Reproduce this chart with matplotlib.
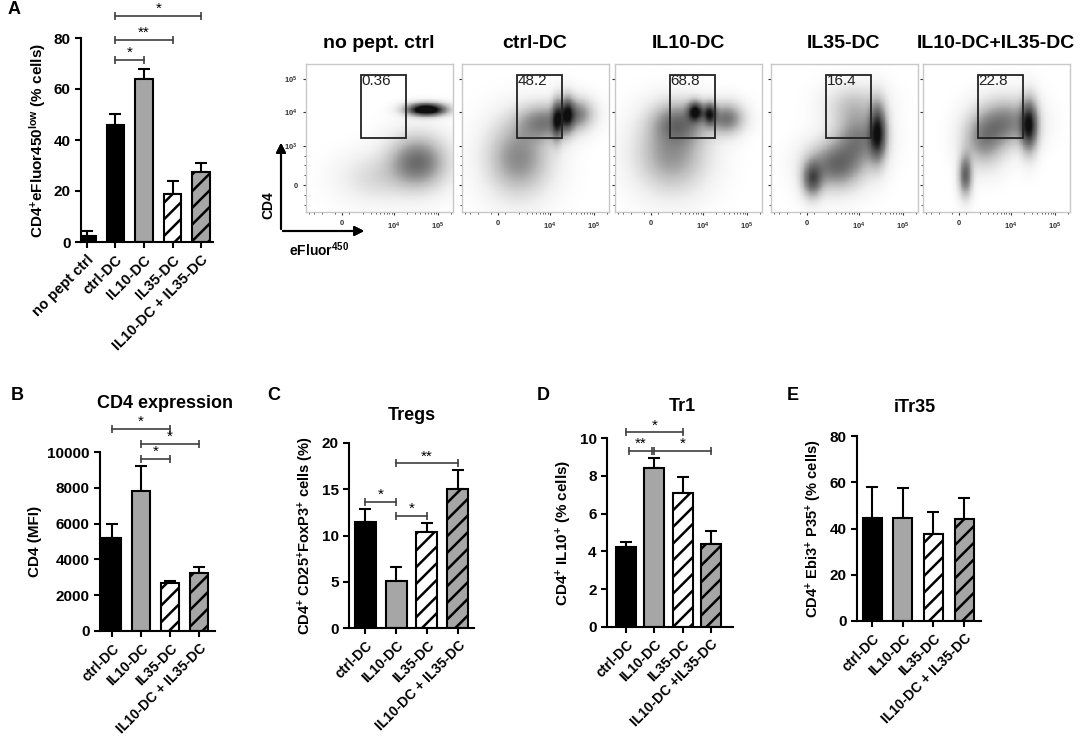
import numpy as np
import matplotlib
matplotlib.use('Agg')
import matplotlib.pyplot as plt
from matplotlib.patches import Rectangle

plt.rcParams['font.family'] = ['Liberation Sans', 'DejaVu Sans']
plt.rcParams['font.weight'] = 'bold'
plt.rcParams['axes.labelweight'] = 'bold'
plt.rcParams['mathtext.fontset'] = 'custom'
plt.rcParams['mathtext.rm'] = 'Liberation Sans:bold'
plt.rcParams['mathtext.it'] = 'Liberation Sans:bold'
plt.rcParams['mathtext.bf'] = 'Liberation Sans:bold'
plt.rcParams['mathtext.default'] = 'rm'
plt.rcParams['hatch.linewidth'] = 1.8

W, H = 1084, 738

# ---- panel A bars
groups_a = ['no pept ctrl', 'ctrl-DC', 'IL10-DC', 'IL35-DC', 'IL10-DC + IL35-DC']
prolif_mean = [2.5, 46, 64, 19, 27.5]
prolif_err = [2.0, 4.0, 4.0, 5.0, 3.5]
prolif_sig = [(1, 4, 88.6, '*'), (1, 3, 79.2, '**'), (1, 2, 71.4, '*')]

# ---- panels B-E
groups = ['ctrl-DC', 'IL10-DC', 'IL35-DC', 'IL10-DC + IL35-DC']
groups_d = ['ctrl-DC', 'IL10-DC', 'IL35-DC', 'IL10-DC +IL35-DC']
cd4_mfi = [5200, 7800, 2700, 3250]
cd4_err = [800, 1400, 100, 350]
cd4_sig = [(0, 2, 11300, '*'), (1, 3, 10450, '*'), (1, 2, 9600, '*')]
tregs = [11.5, 5.1, 10.4, 15.0]
tregs_err = [1.4, 1.5, 1.0, 2.1]
tregs_sig = [(1, 3, 17.8, '**'), (0, 1, 13.6, '*'), (1, 2, 12.1, '*')]
tr1 = [4.25, 8.4, 7.1, 4.4]
tr1_err = [0.25, 0.55, 0.85, 0.7]
tr1_sig = [(0, 2, 10.3, '*'), (0.1, 0.92, 9.3, '**'), (1, 3, 9.3, '*')]
itr35 = [44.5, 44.5, 37.8, 44.0]
itr35_err = [13.5, 13.0, 9.2, 9.0]

# ---- flow plots (cluster centre x, centre y, spread x/y in decades, peak level)
flow_titles = ['no pept. ctrl', 'ctrl-DC', 'IL10-DC', 'IL35-DC', 'IL10-DC+IL35-DC']
gate_pct = ['0.36', '48.2', '68.8', '16.4', '22.8']
gate_x = (1800, 19500)
gate_y = (1700, 130000)
flow_nopept = [(55000, 12000, 0.28, 0.12, 1.4), (35000, 580, 0.42, 0.50, 0.55),
               (4000, 200, 0.50, 0.45, 0.12)]
flow_ctrl = [(14800, 6000, 0.08, 0.40, 0.6), (25000, 9000, 0.10, 0.35, 0.6),
             (8000, 5000, 0.40, 0.35, 0.45), (40000, 9000, 0.25, 0.30, 0.45),
             (2000, 700, 0.45, 0.70, 0.42)]
flow_il10 = [(6900, 10500, 0.12, 0.20, 0.85), (14500, 9000, 0.10, 0.22, 0.75),
             (35000, 6500, 0.25, 0.30, 0.5), (3000, 5000, 0.40, 0.40, 0.45),
             (2000, 800, 0.50, 0.70, 0.38)]
flow_il35 = [(27000, 2500, 0.13, 0.55, 0.85), (700, 150, 0.15, 0.35, 0.6),
             (3000, 500, 0.40, 0.45, 0.55), (10000, 1500, 0.35, 0.50, 0.45),
             (8000, 15000, 0.40, 0.40, 0.2)]
flow_combo = [(26000, 4000, 0.13, 0.50, 0.85), (870, 250, 0.10, 0.40, 0.6),
              (2500, 1500, 0.30, 0.50, 0.4), (8000, 5000, 0.40, 0.45, 0.45)]
flow_data = [flow_nopept, flow_ctrl, flow_il10, flow_il35, flow_combo]

fig = plt.figure(figsize=(W / 100, H / 100), dpi=100)


def px_axes(left, top, right, bottom):
    return fig.add_axes([left / W, 1 - bottom / H, (right - left) / W, (bottom - top) / H])


def fx(px):
    return px / W


def fy(py):
    return 1 - py / H


def bar_panel(ax, means, errs, labels, colors, hatches, sig, ylim, yticks, xlim, width, xfs=10):
    x = np.arange(len(means))
    for i in range(len(means)):
        ax.bar(x[i], means[i], width, color=colors[i], edgecolor='black',
               linewidth=1.5, hatch=hatches[i], zorder=2)
    ax.errorbar(x, means, yerr=[np.zeros(len(errs)), errs], fmt='none', ecolor='black',
                elinewidth=1.5, capsize=4, capthick=1.5, zorder=1)
    ax.set_xlim(*xlim)
    ax.set_ylim(*ylim)
    ax.set_yticks(yticks)
    ax.set_xticks(x)
    ax.set_xticklabels(labels, rotation=45, ha='right', rotation_mode='anchor', fontsize=xfs)
    ax.tick_params(axis='y', labelsize=11, width=1.5, length=4)
    ax.tick_params(axis='x', width=1.5, length=4)
    for s in ['top', 'right']:
        ax.spines[s].set_visible(False)
    for s in ['left', 'bottom']:
        ax.spines[s].set_linewidth(1.5)
    for a, b, y, star in sig:
        ax.plot([a, b], [y, y], color='#404040', lw=1.2, marker='|', ms=6, mew=1.2, clip_on=False)
        ax.text((a + b) / 2, y, star, ha='center', va='bottom', fontsize=11,
                fontweight='normal', clip_on=False)


gray = '#a6a6a6'
# ---- A
axA = px_axes(81, 38, 213, 242)
bar_panel(axA, prolif_mean, prolif_err, groups_a, ['black', 'black', gray, 'white', gray],
          [None, None, None, '//', '//'], prolif_sig, (0, 80), [0, 20, 40, 60, 80],
          (-0.21, 4.42), 0.6, xfs=10.5)
axA.set_ylabel(r'CD4$^{+}$eFluor450$^{low}$ (% cells)', fontsize=11)

# ---- flow dot plots
flow_lefts = [306, 462, 615, 771, 923]
for k, left in enumerate(flow_lefts):
    ax = px_axes(left, 64, left + 147, 212)
    ax.set_xscale('symlog', linthresh=1000, linscale=0.144)
    ax.set_yscale('symlog', linthresh=1000, linscale=1.06)
    ax.set_xlim(-4570, 219000)
    ax.set_ylim(-680, 275000)
    tx = ax.xaxis.get_transform()
    ty = ax.yaxis.get_transform()
    ux = np.linspace(*tx.transform(np.array(ax.get_xlim())), 181)
    uy = np.linspace(*ty.transform(np.array(ax.get_ylim())), 181)
    cx = (ux[:-1] + ux[1:]) / 2
    cy = (uy[:-1] + uy[1:]) / 2
    U, V = np.meshgrid(cx, cy)
    Z = np.zeros_like(U)
    for xc, yc, sx, sy, w in flow_data[k]:
        uc = tx.transform(np.array([xc]))[0]
        vc = ty.transform(np.array([yc]))[0]
        Z += w * np.exp(-0.5 * (((U - uc) / (sx * 1000)) ** 2 + ((V - vc) / (sy * 1000)) ** 2))
    xe = tx.inverted().transform(ux)
    ye = ty.inverted().transform(uy)
    ax.pcolormesh(xe, ye, np.clip(Z, 0, 1) ** 0.65, cmap='Greys', vmin=0, vmax=1.05,
                  shading='flat', rasterized=True)
    ax.add_patch(Rectangle((gate_x[0], gate_y[0]), gate_x[1] - gate_x[0], gate_y[1] - gate_y[0],
                           fill=False, edgecolor='#222222', lw=1.3))
    ax.text(gate_x[0] * 1.05, gate_y[1] * 1.05, gate_pct[k], ha='left', va='top', fontsize=11,
            fontweight='normal', color='#222222')
    ax.set_xticks([0, 1e4, 1e5])
    ax.set_xticklabels(['0', r'10$^4$', r'10$^5$'])
    ax.set_xticks([-4000, -3000, -2000, -1000, 1000, 2000, 3000, 4000, 5000, 6000, 7000, 8000,
                   9000, 20000, 30000, 40000, 50000, 60000, 70000, 80000, 90000, 200000],
                  minor=True)
    ax.set_yticks([0, 1e3, 1e4, 1e5])
    if k == 0:
        ax.set_yticklabels(['0', r'10$^3$', r'10$^4$', r'10$^5$'])
    else:
        ax.set_yticklabels([])
    ax.set_yticks([-500, -250, 250, 500, 750], minor=True)
    ax.tick_params(labelsize=5.5, colors='#333333', length=2.5, width=0.8)
    ax.tick_params(which='minor', length=1.5, width=0.6, colors='#333333')
    for s in ax.spines.values():
        s.set_color('#c8c8c8')
        s.set_linewidth(1)
    fig.text(fx(left + 73), fy(44), flow_titles[k], ha='center', va='center', fontsize=14)

# axis indicator arrows
fig.add_artist(plt.annotate('', xy=(fx(281), fy(140)), xytext=(fx(281), fy(231.7)),
                            xycoords='figure fraction',
                            arrowprops=dict(arrowstyle='-|>', lw=1.5, color='black',
                                            mutation_scale=14)))
fig.add_artist(plt.annotate('', xy=(fx(367), fy(231)), xytext=(fx(280.3), fy(231)),
                            xycoords='figure fraction',
                            arrowprops=dict(arrowstyle='-|>', lw=1.5, color='black',
                                            mutation_scale=14)))
fig.text(fx(268), fy(205), 'CD4', rotation=90, ha='center', va='center', fontsize=10)
fig.text(fx(289), fy(250), r'eFluor$^{450}$', ha='left', va='center', fontsize=10)

# ---- B
axB = px_axes(100, 452, 215, 631)
bar_panel(axB, cd4_mfi, cd4_err, groups, ['black', gray, 'white', gray], [None, None, '//', '//'],
          cd4_sig, (0, 10000), [0, 2000, 4000, 6000, 8000, 10000], (-0.41, 3.55), 0.65)
axB.set_ylabel('CD4 (MFI)', fontsize=11)

# ---- C
axC = px_axes(349, 443, 474, 628)
bar_panel(axC, tregs, tregs_err, groups, ['black', gray, 'white', gray], [None, None, '//', '//'],
          tregs_sig, (0, 20), [0, 5, 10, 15, 20], (-0.52, 3.52), 0.68)
axC.set_ylabel(r'CD4$^{+}$ CD25$^{+}$FoxP3$^{+}$ cells (%)', fontsize=10.5)

# ---- D
axD = px_axes(607, 438, 733, 627)
bar_panel(axD, tr1, tr1_err, groups_d, ['black', gray, 'white', gray], [None, None, '//', '//'],
          tr1_sig, (0, 10), [0, 2, 4, 6, 8, 10], (-0.67, 3.78), 0.7)
axD.set_ylabel(r'CD4$^{+}$ IL10$^{+}$ (% cells)', fontsize=11)

# ---- E
axE = px_axes(857, 436, 981, 621)
bar_panel(axE, itr35, itr35_err, groups, ['black', gray, 'white', gray], [None, None, '//', '//'],
          [], (0, 80), [0, 20, 40, 60, 80], (-0.49, 3.55), 0.62)
axE.set_ylabel(r'CD4$^{+}$ Ebi3$^{+}$ P35$^{+}$ (% cells)', fontsize=10.5)

# titles and panel letters
fig.text(fx(165), fy(403), 'CD4 expression', ha='center', va='center', fontsize=13)
fig.text(fx(412), fy(415), 'Tregs', ha='center', va='center', fontsize=13)
fig.text(fx(682), fy(407), 'Tr1', ha='center', va='center', fontsize=13)
fig.text(fx(915), fy(408), 'iTr35', ha='center', va='center', fontsize=13)
for letter, (lx, ly) in {'A': (14, 10), 'B': (17, 395), 'C': (274, 395),
                         'D': (543, 395), 'E': (793, 395)}.items():
    fig.text(fx(lx), fy(ly), letter, ha='center', va='center', fontsize=13)

fig.savefig('out.png', dpi=100)
